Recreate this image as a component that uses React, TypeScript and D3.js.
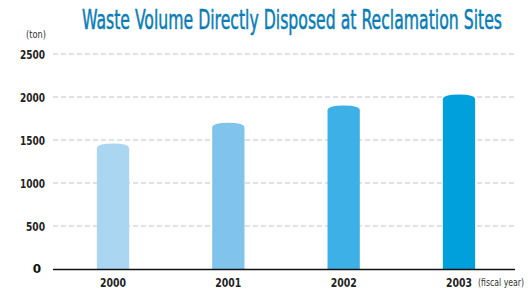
import React from 'react';
import * as d3 from 'd3';

const years = ['2000', '2001', '2002', '2003'];
const volumes = [1460, 1700, 1900, 2030];
const barColors = ['#aad6f2', '#80c4ec', '#3db0e6', '#00a0dd'];
const yTicks = [0, 500, 1000, 1500, 2000, 2500];

const W = 528;
const H = 290;
const margin = { top: 54, right: 13, bottom: 21, left: 53 };

const App: React.FC = () => {
  const x = d3.scaleBand()
    .domain(years)
    .range([55, 517])
    .paddingInner(0.72)
    .paddingOuter(0.363);

  const y = d3.scaleLinear()
    .domain([0, 2500])
    .range([H - margin.bottom, margin.top]);

  const bw = x.bandwidth();
  const capH = 5;
  const font = '"DejaVu Sans Condensed", "Liberation Sans Narrow", sans-serif';

  // cylinder-like bar: flat bottom, elliptical top
  const barPath = (yr: string, v: number) => {
    const x0 = x(yr)!;
    const yTop = y(v);
    const y0 = y(0);
    return `M${x0},${y0} L${x0},${yTop + capH} Q${x0},${yTop} ${x0 + bw / 2},${yTop} Q${x0 + bw},${yTop} ${x0 + bw},${yTop + capH} L${x0 + bw},${y0} Z`;
  };

  return (
    <svg width={W} height={H} style={{ position: 'absolute', left: 0, top: 0 }}>
      <text transform="translate(82,29) scale(0.7,1)" fill="#0a7db4" fontFamily={font} fontSize={26}
        stroke="#0a7db4" strokeWidth={0.5}
        textLength={600} lengthAdjust="spacingAndGlyphs">
        Waste Volume Directly Disposed at Reclamation Sites
      </text>
      <text x={46} y={38} textAnchor="end" fontFamily={font} fontSize={10} fill="#333"
        textLength={20} lengthAdjust="spacingAndGlyphs">(ton)</text>

      {yTicks.filter(t => t > 0).map(t => (
        <g key={t}>
          <line x1={margin.left} x2={W - margin.right} y1={y(t)} y2={y(t)}
            stroke="#c4c4c4" strokeWidth={1} strokeDasharray="5,3" />
          <text x={45} y={y(t)} dy="0.36em" textAnchor="end" fontFamily={font}
            fontWeight="bold" fontSize={13} fill="#222"
            textLength={t >= 1000 ? 25 : 19} lengthAdjust="spacingAndGlyphs">{t}</text>
        </g>
      ))}
      <text x={41} y={y(0)} dy="0.36em" textAnchor="end" fontFamily="DejaVu Sans, sans-serif"
        fontWeight="bold" fontSize={12} fill="#111">0</text>

      {years.map((yr, i) => (
        <path key={yr} d={barPath(yr, volumes[i])} fill={barColors[i]} />
      ))}

      <line x1={margin.left} x2={W - margin.right} y1={y(0) + 0.5} y2={y(0) + 0.5}
        stroke="#111" strokeWidth={1.3} />

      {years.map(yr => (
        <text key={yr} x={x(yr)! + bw / 2} y={287} textAnchor="middle" fontFamily={font}
          fontWeight="bold" fontSize={12} fill="#222"
          textLength={26} lengthAdjust="spacingAndGlyphs">{yr}</text>
      ))}
      <text transform="translate(478,286) scale(0.8,1)" fontFamily={font} fontSize={10} fill="#333"
        textLength={57.5} lengthAdjust="spacingAndGlyphs">(fiscal year)</text>
    </svg>
  );
};

export default App;
